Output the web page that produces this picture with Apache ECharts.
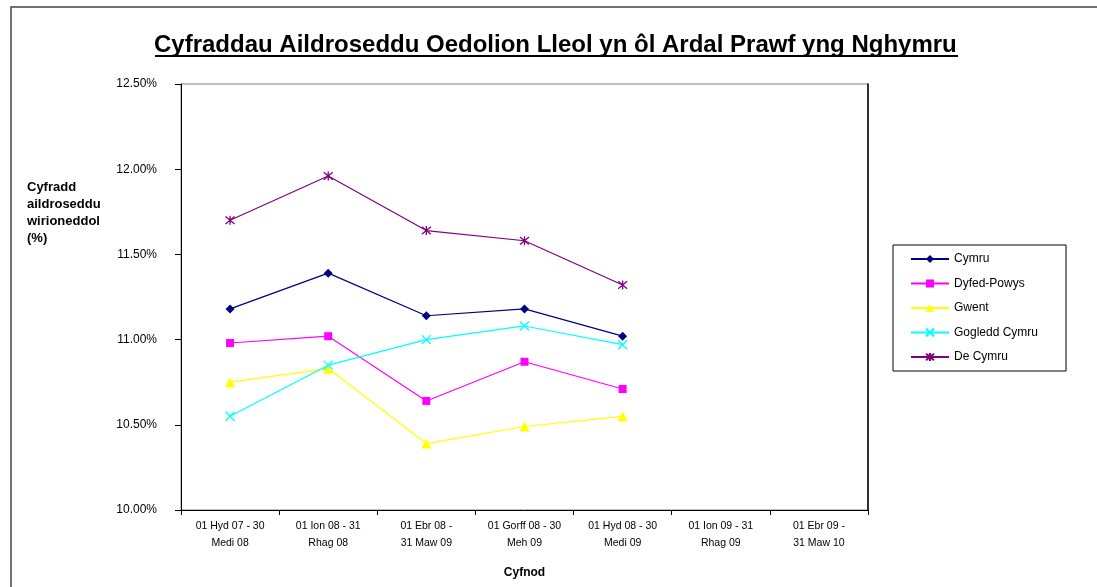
<!DOCTYPE html>
<html>
<head>
<meta charset="utf-8">
<script src="https://cdn.jsdelivr.net/npm/echarts@6/dist/echarts.min.js"></script>
<style>
  html, body { margin: 0; padding: 0; background: #fff; }
  #chart { width: 1097px; height: 587px; }
</style>
</head>
<body>
<div id="chart"></div>
<script>
// categories (Cyfnod)
const periods = [
  '01 Hyd 07 - 30\nMedi 08',
  '01 Ion 08 - 31\nRhag 08',
  '01 Ebr 08 -\n31 Maw 09',
  '01 Gorff 08 - 30\nMeh 09',
  '01 Hyd 08 - 30\nMedi 09',
  '01 Ion 09 - 31\nRhag 09',
  '01 Ebr 09 -\n31 Maw 10',
];

// values in %
const cymru = [11.18, 11.39, 11.14, 11.18, 11.02, null, null];
const dyfedPowys = [10.98, 11.02, 10.64, 10.87, 10.71, null, null];
const gwent = [10.75, 10.83, 10.39, 10.49, 10.55, null, null];
const gogleddCymru = [10.55, 10.85, 11.00, 11.08, 10.97, null, null];
const deCymru = [11.70, 11.96, 11.64, 11.58, 11.32, null, null];

const font = 'Liberation Sans, Arial, sans-serif';

const crossPath = 'path://M0,0L10,10M10,0L0,10';
const starPath = 'path://M0,0L10,10M10,0L0,10M5,-1L5,11';

function lineSeries(name, data, color, symbol, size, stroked) {
  return {
    name,
    type: 'line',
    data,
    symbol,
    symbolSize: size,
    showSymbol: true,
    lineStyle: { color, width: 1.2 },
    itemStyle: stroked
      ? { color: 'rgba(0,0,0,0)', borderColor: color, borderWidth: 1.3 }
      : { color },
    emphasis: { disabled: true },
  };
}

const chart = echarts.init(document.getElementById('chart'));
chart.setOption({
  animation: false,
  backgroundColor: '#fff',
  title: {
    text: 'Cyfraddau Aildroseddu Oedolion Lleol yn ôl Ardal Prawf yng Nghymru',
    left: 154,
    top: 33,
    padding: 0,
    textStyle: { fontFamily: font, fontSize: 24, fontWeight: 'bold', color: '#000' },
  },
  graphic: [
    {
      type: 'rect',
      shape: { x: 11, y: 7, width: 1200, height: 700 },
      style: { fill: 'none', stroke: '#444', lineWidth: 1.5 },
      silent: true,
    },
    {
      type: 'line',
      shape: { x1: 155, y1: 56, x2: 958, y2: 56 },
      style: { stroke: '#000', lineWidth: 2 },
      silent: true,
    },
    {
      type: 'text',
      left: 27,
      top: 179,
      style: {
        text: 'Cyfradd\naildroseddu\nwirioneddol\n(%)',
        font: 'bold 13px ' + font,
        lineHeight: 17,
        fill: '#000',
      },
    },
  ],
  legend: {
    orient: 'vertical',
    left: 893,
    top: 245,
    padding: [8, 28, 8, 17],
    itemWidth: 38,
    itemHeight: 10,
    itemGap: 12.5,
    borderColor: '#000',
    borderWidth: 1,
    textStyle: { fontFamily: font, fontSize: 12, color: '#000' },
    data: ['Cymru', 'Dyfed-Powys', 'Gwent', 'Gogledd Cymru', 'De Cymru'],
  },
  grid: {
    left: 181,
    right: 1097 - 868,
    top: 84,
    bottom: 587 - 510,
    show: true,
    borderColor: '#808080',
    borderWidth: 1,
    containLabel: false,
  },
  xAxis: {
    type: 'category',
    data: periods,
    boundaryGap: true,
    name: 'Cyfnod',
    nameLocation: 'middle',
    nameGap: 57,
    nameTextStyle: { fontFamily: font, fontSize: 12, fontWeight: 'bold', color: '#000' },
    axisLine: { lineStyle: { color: '#000', width: 1 } },
    axisTick: { show: true, alignWithLabel: false, length: 5, lineStyle: { color: '#000' } },
    axisLabel: {
      interval: 0,
      fontFamily: font,
      fontSize: 10.5,
      color: '#000',
      lineHeight: 17,
      margin: 8,
    },
    splitLine: { show: false },
  },
  yAxis: [
    {
      type: 'value',
      min: 10,
      max: 12.5,
      interval: 0.5,
      axisLine: { show: true, lineStyle: { color: '#000', width: 1 } },
      axisTick: { show: true, length: 6, lineStyle: { color: '#000' } },
      axisLabel: {
        fontFamily: font,
        fontSize: 12,
        color: '#000',
        margin: 24,
        formatter: (v) => v.toFixed(2) + '%',
      },
      splitLine: { show: false },
    },
    {
      type: 'value',
      position: 'right',
      min: 10,
      max: 12.5,
      interval: 0.5,
      axisLine: { show: true, lineStyle: { color: '#000', width: 1.5 } },
      axisTick: { show: false },
      axisLabel: { show: false },
      splitLine: { show: false },
    },
  ],
  series: [
    lineSeries('Cymru', cymru, '#000080', 'diamond', 9, false),
    lineSeries('Dyfed-Powys', dyfedPowys, '#FF00FF', 'rect', 8, false),
    lineSeries('Gwent', gwent, '#FFFF00', 'triangle', 10, false),
    lineSeries('Gogledd Cymru', gogleddCymru, '#00FFFF', crossPath, 9, true),
    lineSeries('De Cymru', deCymru, '#800080', starPath, 9, true),
  ],
});
</script>
</body>
</html>
